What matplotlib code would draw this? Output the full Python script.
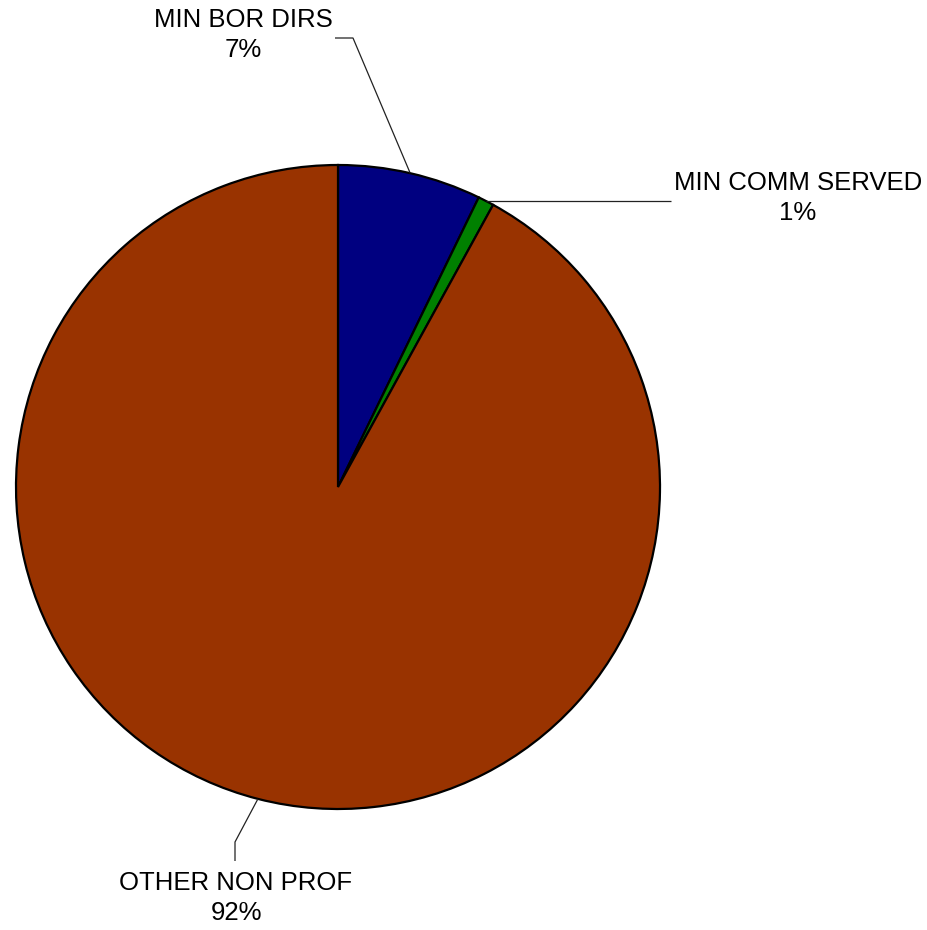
import numpy as np
import matplotlib.pyplot as plt

plt.rcParams['font.family'] = ['Liberation Sans', 'DejaVu Sans']

labels = ['MIN BOR DIRS', 'MIN COMM SERVED', 'OTHER NON PROF']
values = [7.2, 0.8, 92.0]
pct_text = ['7%', '1%', '92%']
colors = ['#000080', '#008000', '#993300']

W, H = 928, 930
cx, cy, R = 338, 487, 322  # pie centre / radius in pixels

fig = plt.figure(figsize=(W / 100, H / 100), dpi=100)
ax = fig.add_axes([0, 0, 1, 1])
wedges, _ = ax.pie(values, colors=colors, startangle=90, counterclock=False,
                   radius=1.0, center=(0, 0),
                   wedgeprops=dict(edgecolor='black', linewidth=1.6))
ax.set_xlim(-cx / R, (W - cx) / R)
ax.set_ylim(-(H - cy) / R, cy / R)
ax.set_aspect('equal')
ax.axis('off')

def px(x, y):
    return (x - cx) / R, (cy - y) / R

# leader elbows and label positions (pixels)
elbows = [[(353, 38), (335, 38)], [(671, 199)], [(235, 842), (235, 861)]]
label_pos = [(243, 35), (798, 198), (236, 898)]

for w, lab, pct, elb, lp in zip(wedges, labels, pct_text, elbows, label_pos):
    mid = np.deg2rad((w.theta1 + w.theta2) / 2)
    x0, y0 = np.cos(mid), np.sin(mid)
    if lab == 'MIN COMM SERVED':
        pts = [(x0, y0), (px(*elb[0])[0], y0)]
    else:
        pts = [(x0, y0)] + [px(*p) for p in elb]
    xs, ys = zip(*pts)
    ax.plot(xs, ys, color='#222222', lw=0.9, solid_capstyle='butt')
    tx, ty = px(*lp)
    ax.text(tx, ty, lab + '\n' + pct, ha='center', va='center',
            fontsize=18.5, linespacing=1.3)

fig.savefig('out.png', dpi=100, facecolor='white')
